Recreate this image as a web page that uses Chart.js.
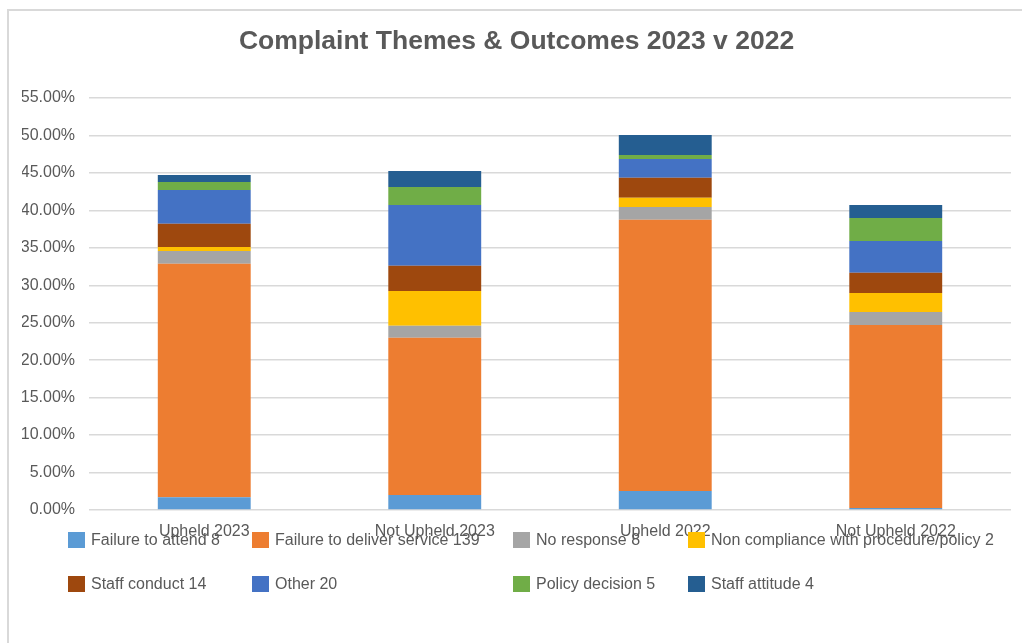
<!DOCTYPE html>
<html>
<head>
<meta charset="utf-8">
<script src="https://cdn.jsdelivr.net/npm/chart.js@4/dist/chart.umd.min.js"></script>
<style>
  html, body { margin: 0; padding: 0; background: #ffffff; }
  #wrap { width: 1022px; height: 643px; }
</style>
</head>
<body>
<div id="wrap"><canvas id="c" width="1022" height="643"></canvas></div>
<script>
const categories = ["Upheld 2023", "Not Upheld 2023", "Upheld 2022", "Not Upheld 2022"];
const seriesNames = [
  "Failure to attend 8",
  "Failure to deliver service 139",
  "No response 8",
  "Non compliance with procedure/policy 2",
  "Staff conduct 14",
  "Other 20",
  "Policy decision 5",
  "Staff attitude 4"
];
const failureToAttend   = [1.70, 2.00, 2.54, 0.27];
const failureToDeliver  = [31.18, 21.00, 36.22, 24.43];
const noResponse        = [1.70, 1.61, 1.69, 1.74];
const nonCompliance     = [0.53, 4.63, 1.25, 2.53];
const staffConduct      = [3.11, 3.38, 2.67, 2.71];
const other             = [4.50, 8.10, 2.49, 4.23];
const policyDecision    = [1.07, 2.40, 0.54, 3.08];
const staffAttitude     = [0.94, 2.14, 2.67, 1.73];
const yTickValues = [0, 5, 10, 15, 20, 25, 30, 35, 40, 45, 50, 55];
const yTickLabels = ["0.00%", "5.00%", "10.00%", "15.00%", "20.00%", "25.00%", "30.00%", "35.00%", "40.00%", "45.00%", "50.00%", "55.00%"];

const colors = ["#5B9BD5", "#ED7D31", "#A5A5A5", "#FFC000", "#9E480E", "#4472C4", "#70AD47", "#255E91"];
const seriesValues = [failureToAttend, failureToDeliver, noResponse, nonCompliance, staffConduct, other, policyDecision, staffAttitude];

const FONT = "'Liberation Sans', Arial, sans-serif";
const TEXT = "#595959";

const datasets = seriesNames.map((name, i) => ({
  label: name,
  data: seriesValues[i],
  backgroundColor: colors[i],
  borderWidth: 0,
  barPercentage: 0.403,
  categoryPercentage: 1.0
}));

const frameAndLegend = {
  id: 'frameAndLegend',
  beforeDraw(chart) {
    const ctx = chart.ctx;
    ctx.save();
    ctx.fillStyle = '#ffffff';
    ctx.fillRect(0, 0, chart.width, chart.height);
    ctx.strokeStyle = '#d9d9d9';
    ctx.lineWidth = 2;
    ctx.beginPath();
    ctx.moveTo(8, chart.height + 2);
    ctx.lineTo(8, 10);
    ctx.lineTo(chart.width + 2, 10);
    ctx.stroke();
    ctx.restore();
  },
  afterDraw(chart) {
    const ctx = chart.ctx;
    const cols = [68, 252, 513, 688];
    const rows = [532, 576];
    ctx.save();
    ctx.font = "16px " + FONT;
    ctx.textBaseline = 'middle';
    ctx.textAlign = 'left';
    chart.data.datasets.forEach((ds, i) => {
      const x = cols[i % 4];
      const y = rows[Math.floor(i / 4)];
      ctx.fillStyle = ds.backgroundColor;
      ctx.fillRect(x, y, 17, 16);
      ctx.fillStyle = TEXT;
      ctx.fillText(ds.label, x + 23, y + 9);
    });
    ctx.restore();
  }
};

new Chart(document.getElementById('c'), {
  type: 'bar',
  data: { labels: categories, datasets },
  options: {
    responsive: false,
    animation: false,
    devicePixelRatio: 1,
    layout: { padding: { left: 22, right: 11, top: 0, bottom: 100 } },
    plugins: {
      legend: { display: false },
      tooltip: { enabled: false },
      title: {
        display: true,
        text: "Complaint Themes & Outcomes 2023 v 2022",
        color: TEXT,
        font: { family: FONT, size: 26.5, weight: 'bold' },
        padding: { top: 26, bottom: 40.2 }
      }
    },
    scales: {
      x: {
        stacked: true,
        grid: { display: false, drawTicks: false },
        border: { display: false },
        ticks: { color: TEXT, font: { family: FONT, size: 16 }, padding: 12, maxRotation: 0, autoSkip: false },
        afterFit(scale) { scale.height = 33; }
      },
      y: {
        stacked: true,
        min: 0,
        max: 55,
        afterBuildTicks(scale) { scale.ticks = yTickValues.map(v => ({ value: v })); },
        grid: { color: '#d9d9d9', lineWidth: 1.5, drawTicks: false },
        border: { display: false },
        ticks: {
          color: TEXT,
          font: { family: FONT, size: 16 },
          padding: 14,
          callback: (v) => yTickLabels[yTickValues.indexOf(v)]
        },
        afterFit(scale) { scale.width = 67; }
      }
    }
  },
  plugins: [frameAndLegend]
});
</script>
</body>
</html>
